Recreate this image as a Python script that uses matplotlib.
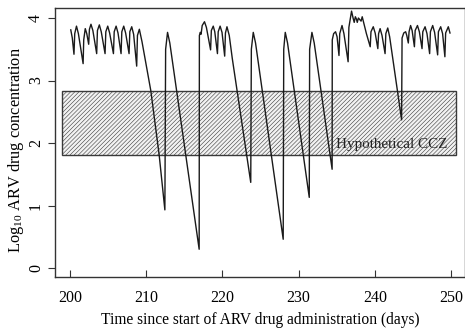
import matplotlib
matplotlib.use("Agg")
import matplotlib.pyplot as plt
from matplotlib.patches import Rectangle

plt.rcParams['font.family'] = ['Liberation Serif', 'DejaVu Serif']
plt.rcParams['mathtext.fontset'] = 'custom'
plt.rcParams['mathtext.rm'] = 'Liberation Serif'
plt.rcParams['mathtext.it'] = 'Liberation Serif:italic'
plt.rcParams['hatch.linewidth'] = 0.4
plt.rcParams['hatch.color'] = '#c2c2c2'

# Time (days) and log10 concentration
time_days = [
    200.1, 200.3, 200.52, 200.62, 200.85, 201.1, 201.72, 201.8, 202.0, 202.2,
    202.45, 202.55, 202.75, 203.0, 203.5, 203.6, 203.85, 204.1, 204.6, 204.7,
    204.95, 205.2, 205.7, 205.8, 206.05, 206.3, 206.7, 206.8, 207.05, 207.3,
    207.75, 207.85, 208.1, 208.35, 208.75, 208.85, 209.1, 209.45, 210.0, 210.6,
    211.7, 212.45,
    212.55, 212.8, 213.1, 216.95,
    216.98, 217.1, 217.2, 217.35, 217.65, 217.9, 218.45, 218.55, 218.8, 219.0,
    219.35, 219.45, 219.7, 219.95, 220.3, 220.4, 220.6, 220.9, 221.3, 223.72,
    223.8, 224.05, 224.35, 227.98,
    228.05, 228.25, 228.55, 231.4,
    231.45, 231.75, 232.05, 234.4,
    234.42, 234.6, 234.85, 235.05, 235.3, 235.4, 235.7, 235.95, 236.5, 236.6,
    236.95, 237.15, 237.3, 237.45, 237.6, 237.7, 237.85, 238.05, 238.2, 238.35,
    238.55, 238.9, 239.4, 239.5, 239.8, 240.05, 240.4, 240.5, 240.7, 240.95,
    241.35, 241.45, 241.7, 241.95, 243.52,
    243.58, 243.8, 244.05, 244.2, 244.4, 244.5, 244.7, 244.9, 245.2, 245.3,
    245.6, 245.85, 246.2, 246.3, 246.6, 246.85, 247.2, 247.3, 247.6, 247.85,
    248.25, 248.35, 248.65, 248.9, 249.2, 249.3, 249.65, 249.87,
]
log_conc = [
    3.81, 3.68, 3.42, 3.75, 3.87, 3.75, 3.27, 3.65, 3.83, 3.75,
    3.58, 3.82, 3.90, 3.80, 3.43, 3.80, 3.89, 3.78, 3.43, 3.78,
    3.87, 3.76, 3.43, 3.78, 3.87, 3.76, 3.43, 3.78, 3.87, 3.76,
    3.43, 3.78, 3.86, 3.74, 3.23, 3.72, 3.82, 3.62, 3.25, 2.84,
    1.81, 0.93,
    3.50, 3.77, 3.60, 0.30,
    3.72, 3.77, 3.74, 3.88, 3.94, 3.85, 3.49, 3.80, 3.87, 3.78,
    3.43, 3.78, 3.87, 3.77, 3.39, 3.76, 3.86, 3.72, 3.35, 1.37,
    3.50, 3.77, 3.60, 0.46,
    3.50, 3.77, 3.60, 1.13,
    3.50, 3.77, 3.60, 1.58,
    3.65, 3.75, 3.78, 3.70, 3.40, 3.75, 3.88, 3.75, 3.30, 3.85,
    4.11, 4.00, 3.93, 4.02, 3.98, 3.93, 4.00, 3.97, 3.95, 4.02,
    3.92, 3.75, 3.54, 3.78, 3.86, 3.76, 3.51, 3.75, 3.83, 3.72,
    3.43, 3.75, 3.84, 3.70, 2.37,
    3.68, 3.76, 3.78, 3.72, 3.60, 3.78, 3.88, 3.80, 3.54, 3.80,
    3.88, 3.78, 3.51, 3.78, 3.86, 3.75, 3.43, 3.78, 3.88, 3.77,
    3.41, 3.78, 3.86, 3.75, 3.38, 3.76, 3.86, 3.76,
]

ccz_lower = 1.81
ccz_upper = 2.84
ccz_start = 199.0
ccz_end = 250.6
ccz_label = "Hypothetical CCZ"

x_ticks = [200, 210, 220, 230, 240, 250]
y_ticks = [0, 1, 2, 3, 4]

W, H = 465, 329
fig = plt.figure(figsize=(W / 100, H / 100), dpi=100)
ax = fig.add_axes([55 / W, (H - 277) / H, (465 - 55) / W, (277 - 8) / H])

ax.add_patch(Rectangle((ccz_start, ccz_lower), ccz_end - ccz_start, ccz_upper - ccz_lower,
                       facecolor='#f2f2f2', edgecolor='#3a3a3a', hatch='////////',
                       linewidth=1.0, zorder=1))
ax.text(249.5, 1.97, ccz_label, ha='right', va='center', fontsize=10.9, color='#222222', zorder=3)

ax.plot(time_days, log_conc, color='#1a1a1a', linewidth=1.0, zorder=2)

ax.set_xlim(198.03, 251.84)
ax.set_ylim(-0.144, 4.16)
ax.set_xticks(x_ticks)
ax.set_yticks(y_ticks)
ax.tick_params(axis='x', direction='in', length=5, labelsize=11.5, pad=9, color='#333333')
ax.tick_params(axis='y', direction='out', length=5, labelsize=11.5, pad=3, color='#333333',
               labelrotation=90)
for lab in ax.get_yticklabels():
    lab.set_va('center')
for s in ax.spines.values():
    s.set_color('#333333')
    s.set_linewidth(1.0)

ax.set_xlabel("Time since start of ARV drug administration (days)", fontsize=11.2, labelpad=5)
fig.text(16 / W, 1 - 150 / H, "Log$_{10}$ ARV drug concentration", rotation=90,
         ha='center', va='center', fontsize=11.8)

fig.savefig("out.png", dpi=100)
